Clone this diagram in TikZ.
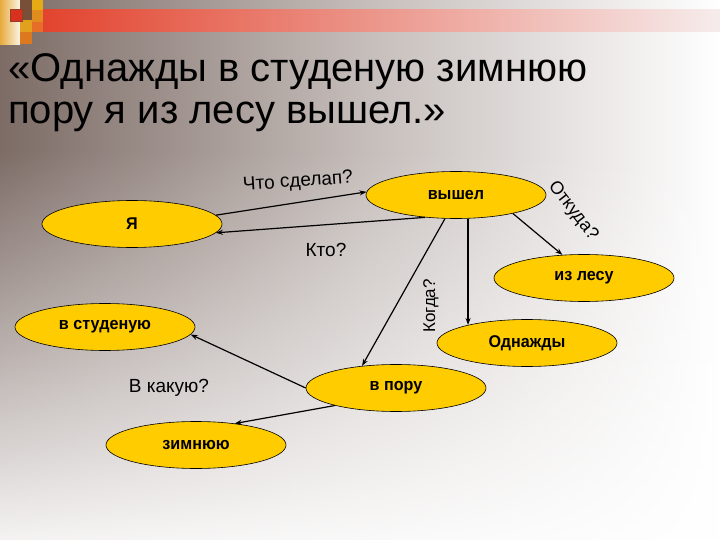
\documentclass[tikz,border=0pt]{standalone}
\usepackage{fontspec}
\setmainfont{Liberation Sans}
\newfontfamily\nodefont[FakeStretch=0.95]{Liberation Sans}
\usetikzlibrary{shapes.geometric,arrows.meta,fadings}
\definecolor{gold}{RGB}{255,204,0}
\definecolor{bgdark}{RGB}{125,108,102}
\definecolor{bgmid}{RGB}{196,188,185}
\definecolor{stripered}{RGB}{226,66,44}
\definecolor{stripeend}{RGB}{246,236,236}
\definecolor{decoA}{RGB}{230,170,60}
\definecolor{decoB}{RGB}{250,245,230}
\definecolor{decoC}{RGB}{120,80,55}
\definecolor{decoD}{RGB}{225,160,30}
\definecolor{decoE}{RGB}{220,120,30}
\definecolor{decoF}{RGB}{230,170,20}
\definecolor{decoG}{RGB}{225,140,30}
\definecolor{decoH}{RGB}{230,110,40}
\definecolor{decoR}{RGB}{215,50,30}
\definecolor{decoRb}{RGB}{150,60,40}
\tikzfading[name=fadebottom, top color=transparent!100, bottom color=transparent!8]
\tikzset{
  oval/.style={ellipse, draw=black, line width=0.6pt, fill=gold, minimum width=180pt, minimum height=47pt, inner sep=0pt, font=\nodefont\bfseries\fontsize{17}{19}\selectfont},
  qlabel/.style={font=\fontsize{19}{21}\selectfont, inner sep=0pt},
  arr/.style={line width=1.2pt, -{Stealth[length=7pt,width=5pt]}},
  titletext/.style={font=\fontsize{40}{46}\selectfont, anchor=base west, inner sep=0pt}
}
\begin{document}
\begin{tikzpicture}[x=1pt,y=-1pt]
\useasboundingbox (0,0) rectangle (720,540);
% background
\shade[left color=bgdark, right color=white, middle color=bgmid] (0,0) rectangle (720,540);
\fill[white, path fading=fadebottom] (0,150) rectangle (720,540);
% top stripe
\shade[left color=stripered, right color=stripeend] (35,10) rectangle (720,32);
% top-left decoration
\shade[left color=decoA, right color=decoB] (0,0) rectangle (20,45);
\fill[decoC] (20,0) rectangle (32,20);
\fill[decoD] (20,20) rectangle (32,32);
\fill[decoE] (20,32) rectangle (32,44);
\fill[decoF] (32,0) rectangle (43,10);
\fill[decoG] (32,10) rectangle (43,22);
\fill[decoH] (32,22) rectangle (43,32);
\filldraw[fill=decoR, draw=decoRb, line width=1pt] (10,10) rectangle (22,22);
% title
\node[titletext] (title1) at (8,82) {«Однажды в студеную зимнюю};
\node[titletext] (title2) at (8,124) {пору я из лесу вышел.»};
% nodes
\node[oval] (ya) at (132,224) {Я};
\node[oval] (vyshel) at (456,195) {вышел};
\node[oval] (izlesu) at (584,278) {из лесу};
\node[oval] (vstud) at (105,327) {в студеную};
\node[oval] (odnazhdy) at (527,343) {Однажды};
\node[oval] (vporu) at (396,388) {в пору};
\node[oval] (zimn) at (196,445) {зимнюю};
% labels
\node[qlabel, rotate=4] (lchto) at (298,182) {Что сделап?};
\node[qlabel] (lkto) at (326,250) {Кто?};
\node[qlabel, font=\fontsize{18}{20}\selectfont, rotate=-52] (lotkuda) at (573,211) {Откуда?};
\node[qlabel, font=\fontsize{17}{19}\selectfont, rotate=90] (lkogda) at (431,306) {Когда?};
\node[qlabel] (lkakuyu) at (169,388) {В какую?};
% connectors
\draw[arr] (ya.6) -- (vyshel.178);
\draw[arr] (vyshel.216) -- (ya.-6);
\draw[arr] (vyshel.-18) -- (izlesu.133);
\draw[arr] (odnazhdy.163 |- vyshel.south) -- (odnazhdy.163);
\draw[arr] (vyshel.-115) -- (vporu.147);
\draw[arr] (vporu.west) -- (vstud.-5);
\draw[arr] (vporu.196) -- (zimn.29);
\end{tikzpicture}
\end{document}
